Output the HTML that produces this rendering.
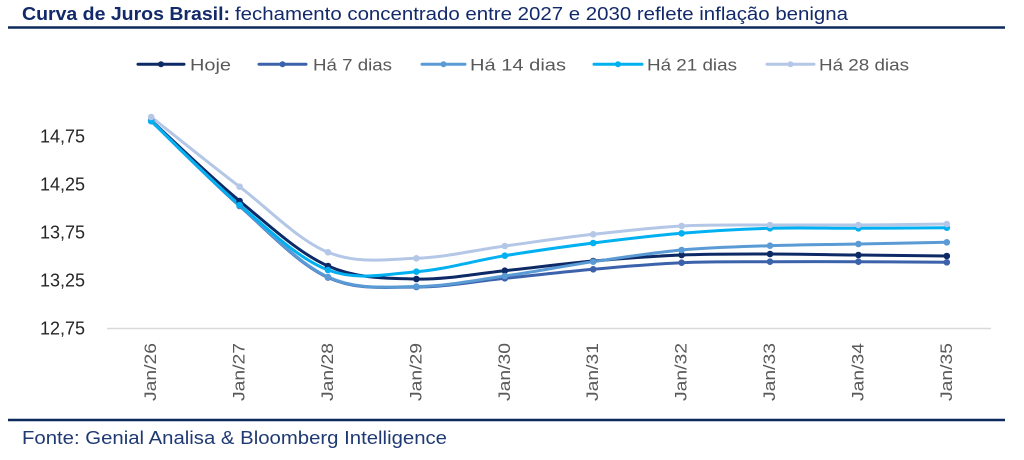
<!DOCTYPE html>
<html><head><meta charset="utf-8"><style>
html,body{margin:0;padding:0;background:#fff;}
svg{display:block;}
text{font-family:"Liberation Sans",Arial,sans-serif;}
</style></head><body>
<svg width="1024" height="460" viewBox="0 0 1024 460" xmlns="http://www.w3.org/2000/svg">
<rect width="1024" height="460" fill="#fff"/>
<!-- Title -->
<text x="22" y="20" font-size="18" font-weight="bold" fill="#12296a" textLength="208" lengthAdjust="spacingAndGlyphs">Curva de Juros Brasil:</text>
<text x="235" y="20" font-size="18" fill="#12296a" textLength="613" lengthAdjust="spacingAndGlyphs">fechamento concentrado entre 2027 e 2030 reflete inflação benigna</text>
<line x1="8" y1="27.5" x2="1005" y2="27.5" stroke="#0d2a5e" stroke-width="2.5"/>

<!-- Legend -->
<g stroke-width="3" stroke-linecap="round">
<line x1="138" y1="64.3" x2="184" y2="64.3" stroke="#0d2a66"/><circle cx="161" cy="64.3" r="3" fill="#0d2a66"/>
<line x1="259" y1="64.3" x2="306" y2="64.3" stroke="#3b62aa"/><circle cx="282.5" cy="64.3" r="3" fill="#3b62aa"/>
<line x1="422" y1="64.3" x2="465" y2="64.3" stroke="#5b9bd5"/><circle cx="443.5" cy="64.3" r="3" fill="#5b9bd5"/>
<line x1="594" y1="64.3" x2="642" y2="64.3" stroke="#00b0f0"/><circle cx="618" cy="64.3" r="3" fill="#00b0f0"/>
<line x1="767" y1="64.3" x2="814" y2="64.3" stroke="#b4c7e7"/><circle cx="790.5" cy="64.3" r="3" fill="#b4c7e7"/>
</g>
<g font-size="17" fill="#595959">
<text x="190" y="70.5" textLength="41" lengthAdjust="spacingAndGlyphs">Hoje</text>
<text x="313" y="70.5" textLength="79" lengthAdjust="spacingAndGlyphs">Há 7 dias</text>
<text x="470" y="70.5" textLength="96" lengthAdjust="spacingAndGlyphs">Há 14 dias</text>
<text x="647" y="70.5" textLength="90" lengthAdjust="spacingAndGlyphs">Há 21 dias</text>
<text x="819" y="70.5" textLength="90" lengthAdjust="spacingAndGlyphs">Há 28 dias</text>
</g>

<!-- Y axis labels -->
<g font-size="18" fill="#262626" text-anchor="end">
<text x="85" y="142.5">14,75</text>
<text x="85" y="190.5">14,25</text>
<text x="85" y="238.5">13,75</text>
<text x="85" y="286.5">13,25</text>
<text x="85" y="334.5">12,75</text>
</g>

<!-- axis line -->
<line x1="107" y1="328.5" x2="991" y2="328.5" stroke="#d9d9d9" stroke-width="1.5"/>

<!-- X labels -->
<g font-size="16.5" fill="#595959" text-anchor="end">
<text transform="translate(156.2,343) rotate(-90)" textLength="58" lengthAdjust="spacingAndGlyphs">Jan/26</text>
<text transform="translate(244.6,343) rotate(-90)" textLength="58" lengthAdjust="spacingAndGlyphs">Jan/27</text>
<text transform="translate(333,343) rotate(-90)" textLength="58" lengthAdjust="spacingAndGlyphs">Jan/28</text>
<text transform="translate(421.4,343) rotate(-90)" textLength="58" lengthAdjust="spacingAndGlyphs">Jan/29</text>
<text transform="translate(509.8,343) rotate(-90)" textLength="58" lengthAdjust="spacingAndGlyphs">Jan/30</text>
<text transform="translate(598.2,343) rotate(-90)" textLength="58" lengthAdjust="spacingAndGlyphs">Jan/31</text>
<text transform="translate(686.6,343) rotate(-90)" textLength="58" lengthAdjust="spacingAndGlyphs">Jan/32</text>
<text transform="translate(775,343) rotate(-90)" textLength="58" lengthAdjust="spacingAndGlyphs">Jan/33</text>
<text transform="translate(863.4,343) rotate(-90)" textLength="58" lengthAdjust="spacingAndGlyphs">Jan/34</text>
<text transform="translate(951.8,343) rotate(-90)" textLength="58" lengthAdjust="spacingAndGlyphs">Jan/35</text>
</g>

<!-- Series -->
<g fill="none" stroke-width="3" stroke-linecap="round" stroke-linejoin="round">
<!-- Hoje -->
<path stroke="#0d2a66" d="M151.2,120.5 C165.9,133.9 210.1,176.8 239.6,201 C269.1,225.3 298.5,253 328,266 C357.5,279 386.9,278.2 416.4,279 C445.9,279.8 475.3,273.7 504.8,270.7 C534.3,267.7 563.7,263.6 593.2,261 C622.7,258.4 652.1,256.2 681.6,255 C711.1,253.8 740.5,254 770,254 C799.5,254 828.9,254.7 858.4,255 C887.9,255.3 932.1,255.8 946.8,256"/>
<!-- 7 dias -->
<path stroke="#3b62aa" d="M151.2,121 C165.9,135.2 210.1,179.9 239.6,206 C269.1,232.1 298.5,264 328,277.5 C357.5,291 386.9,286.9 416.4,287 C445.9,287.1 475.3,281.3 504.8,278.3 C534.3,275.4 563.7,271.9 593.2,269.3 C622.7,266.7 652.1,264 681.6,262.7 C711.1,261.4 740.5,261.9 770,261.7 C799.5,261.5 828.9,261.6 858.4,261.7 C887.9,261.8 932.1,262.2 946.8,262.3"/>
<!-- 14 dias -->
<path stroke="#5b9bd5" d="M151.2,121 C165.9,135.1 210.1,179.5 239.6,205.5 C269.1,231.5 298.5,263.5 328,277 C357.5,290.5 386.9,286.7 416.4,286.5 C445.9,286.3 475.3,280.1 504.8,276 C534.3,271.9 563.7,266 593.2,261.7 C622.7,257.4 652.1,252.7 681.6,250 C711.1,247.3 740.5,246.7 770,245.7 C799.5,244.7 828.9,244.6 858.4,244 C887.9,243.4 932.1,242.6 946.8,242.3"/>
<!-- 21 dias -->
<path stroke="#00b0f0" d="M151.2,121 C165.9,135 210.1,180.2 239.6,205 C269.1,229.8 298.5,258.9 328,270 C357.5,281.1 386.9,274.1 416.4,271.7 C445.9,269.3 475.3,260.5 504.8,255.7 C534.3,250.9 563.7,246.7 593.2,243 C622.7,239.3 652.1,235.8 681.6,233.3 C711.1,230.9 740.5,229.1 770,228.3 C799.5,227.5 828.9,228.4 858.4,228.3 C887.9,228.2 932.1,227.8 946.8,227.7"/>
<!-- 28 dias -->
<path stroke="#b4c7e7" d="M151.2,117 C165.9,128.6 210.1,164.2 239.6,186.7 C269.1,209.3 298.5,240.4 328,252.3 C357.5,264.2 386.9,259.4 416.4,258.3 C445.9,257.3 475.3,250 504.8,246 C534.3,242 563.7,237.6 593.2,234.3 C622.7,231 652.1,227.6 681.6,226 C711.1,224.5 740.5,225.2 770,225 C799.5,224.8 828.9,225.2 858.4,225 C887.9,224.8 932.1,224.2 946.8,224"/>
</g>

<!-- markers -->
<g fill="#0d2a66">
<circle cx="151.2" cy="120.5" r="3.3"/><circle cx="239.6" cy="201" r="3.3"/><circle cx="328" cy="266" r="3.3"/><circle cx="416.4" cy="279" r="3.3"/><circle cx="504.8" cy="270.7" r="3.3"/><circle cx="593.2" cy="261" r="3.3"/><circle cx="681.6" cy="255" r="3.3"/><circle cx="770" cy="254" r="3.3"/><circle cx="858.4" cy="255" r="3.3"/><circle cx="946.8" cy="256" r="3.3"/>
</g>
<g fill="#3b62aa">
<circle cx="151.2" cy="121" r="3.3"/><circle cx="239.6" cy="206" r="3.3"/><circle cx="328" cy="277.5" r="3.3"/><circle cx="416.4" cy="287" r="3.3"/><circle cx="504.8" cy="278.3" r="3.3"/><circle cx="593.2" cy="269.3" r="3.3"/><circle cx="681.6" cy="262.7" r="3.3"/><circle cx="770" cy="261.7" r="3.3"/><circle cx="858.4" cy="261.7" r="3.3"/><circle cx="946.8" cy="262.3" r="3.3"/>
</g>
<g fill="#5b9bd5">
<circle cx="151.2" cy="121" r="3.3"/><circle cx="239.6" cy="205.5" r="3.3"/><circle cx="328" cy="277" r="3.3"/><circle cx="416.4" cy="286.5" r="3.3"/><circle cx="504.8" cy="276" r="3.3"/><circle cx="593.2" cy="261.7" r="3.3"/><circle cx="681.6" cy="250" r="3.3"/><circle cx="770" cy="245.7" r="3.3"/><circle cx="858.4" cy="244" r="3.3"/><circle cx="946.8" cy="242.3" r="3.3"/>
</g>
<g fill="#00b0f0">
<circle cx="151.2" cy="121" r="3.3"/><circle cx="239.6" cy="205" r="3.3"/><circle cx="328" cy="270" r="3.3"/><circle cx="416.4" cy="271.7" r="3.3"/><circle cx="504.8" cy="255.7" r="3.3"/><circle cx="593.2" cy="243" r="3.3"/><circle cx="681.6" cy="233.3" r="3.3"/><circle cx="770" cy="228.3" r="3.3"/><circle cx="858.4" cy="228.3" r="3.3"/><circle cx="946.8" cy="227.7" r="3.3"/>
</g>
<g fill="#b4c7e7">
<circle cx="151.2" cy="117" r="3.3"/><circle cx="239.6" cy="186.7" r="3.3"/><circle cx="328" cy="252.3" r="3.3"/><circle cx="416.4" cy="258.3" r="3.3"/><circle cx="504.8" cy="246" r="3.3"/><circle cx="593.2" cy="234.3" r="3.3"/><circle cx="681.6" cy="226" r="3.3"/><circle cx="770" cy="225" r="3.3"/><circle cx="858.4" cy="225" r="3.3"/><circle cx="946.8" cy="224" r="3.3"/>
</g>

<!-- Footer -->
<line x1="8" y1="420" x2="1005" y2="420" stroke="#0d2a5e" stroke-width="2.5"/>
<text x="22" y="444" font-size="18" fill="#1f3a73" textLength="425" lengthAdjust="spacingAndGlyphs">Fonte: Genial Analisa &amp; Bloomberg Intelligence</text>
</svg>
</body></html>
